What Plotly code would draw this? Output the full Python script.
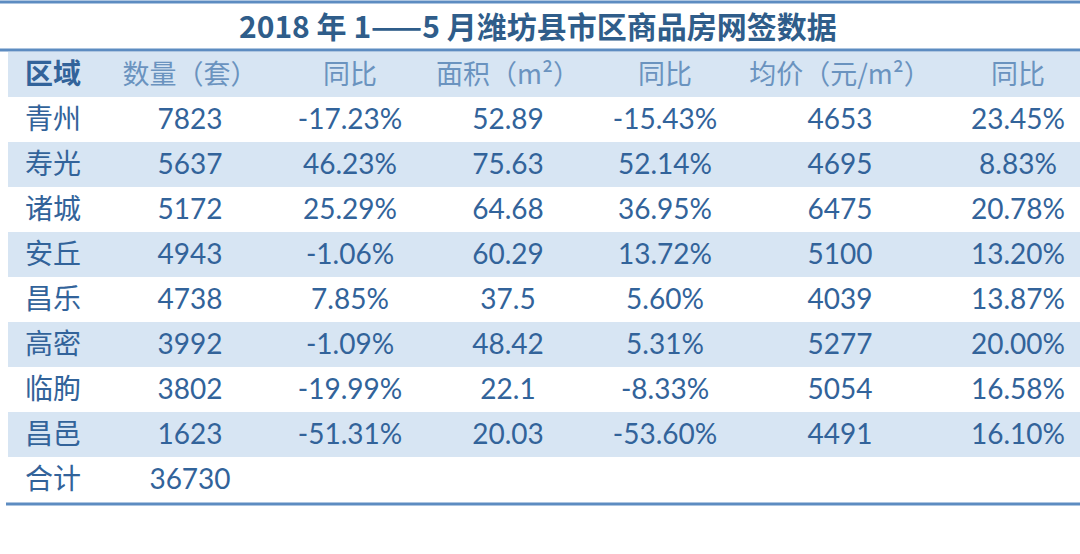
import plotly.graph_objects as go

title_text = "2018 年 1——5 月潍坊县市区商品房网签数据"
headers = ["区域", "数量（套）", "同比", "面积（m²）", "同比", "均价（元/m²）", "同比"]
regions = ["青州", "寿光", "诸城", "安丘", "昌乐", "高密", "临朐", "昌邑", "合计"]
qty = ["7823", "5637", "5172", "4943", "4738", "3992", "3802", "1623", "36730"]
qty_yoy = ["-17.23%", "46.23%", "25.29%", "-1.06%", "7.85%", "-1.09%", "-19.99%", "-51.31%", ""]
area = ["52.89", "75.63", "64.68", "60.29", "37.5", "48.42", "22.1", "20.03", ""]
area_yoy = ["-15.43%", "52.14%", "36.95%", "13.72%", "5.60%", "5.31%", "-8.33%", "-53.60%", ""]
price = ["4653", "4695", "6475", "5100", "4039", "5277", "5054", "4491", ""]
price_yoy = ["23.45%", "8.83%", "20.78%", "13.20%", "13.87%", "20.00%", "16.58%", "16.10%", ""]

W, H = 1080, 554
BLUE = "#d7e5f3"
LINE = "#5d8cc1"
TXT = "#32639a"
HTXT = "#6a93bf"
TITLE = "#2f5d8a"
CJK = "Noto Sans CJK SC"
NUM = "Lato, Noto Sans CJK SC"

# layout geometry (pixels)
ROW_H = 45.0
ROW0 = 74.0          # centre of header row
LEFT = 8
TEXT_DY = 3.0 / ROW_H  # small downward nudge of text within a row
col_x = [25, 190, 350, 508, 665, 840, 1018]

rows = list(range(len(regions) + 1))  # 0 = header
y_top = -ROW0 / ROW_H
y_bot = (H - ROW0) / ROW_H

fig = go.Figure()

# banded row backgrounds (header + every second body row)
band_rows = [r for r in rows if r % 2 == 0]
fig.add_trace(go.Bar(
    y=band_rows, x=[W - LEFT] * len(band_rows), base=[LEFT] * len(band_rows),
    orientation="h", width=1.0, marker=dict(color=BLUE, line=dict(width=0)),
    hoverinfo="skip", showlegend=False,
))

body_rows = rows[1:]
columns = [regions, qty, qty_yoy, area, area_yoy, price, price_yoy]

# header texts
for j, h in enumerate(headers):
    if j == 0:
        txt, fam, col, size, pos = "<b>" + h + "</b>", CJK, TXT, 28, "middle right"
    else:
        txt, fam, col, size, pos = h, CJK, HTXT, 27, "middle center"
    fig.add_trace(go.Scatter(
        x=[col_x[j]], y=[0 + TEXT_DY], mode="text", text=[txt], textposition=pos,
        textfont=dict(family=fam, size=size, color=col),
        hoverinfo="skip", showlegend=False,
    ))

# body texts
for j, vals in enumerate(columns):
    if j == 0:
        fam, size, pos = CJK, 28, "middle right"
    else:
        fam, size, pos = NUM, 28, "middle center"
    fig.add_trace(go.Scatter(
        x=[col_x[j]] * len(vals), y=[r + TEXT_DY for r in body_rows], mode="text",
        text=vals, textposition=pos, textfont=dict(family=fam, size=size, color=TXT),
        hoverinfo="skip", showlegend=False,
    ))

fig.add_annotation(text="<b>" + title_text + "</b>", xref="paper", yref="paper",
                   x=538 / W, y=1 - 25 / H, showarrow=False,
                   font=dict(family=CJK, size=30, color=TITLE),
                   xanchor="center", yanchor="middle")

for ypx, x0 in [(2, 0), (50, 0), (504, 6)]:
    fig.add_shape(type="line", xref="paper", yref="paper", x0=x0 / W, x1=1,
                  y0=1 - ypx / H, y1=1 - ypx / H, line=dict(color=LINE, width=3))

fig.update_layout(
    width=W, height=H, margin=dict(l=0, r=0, t=0, b=0),
    paper_bgcolor="white", plot_bgcolor="white", bargap=0,
    xaxis=dict(range=[0, W], visible=False, fixedrange=True),
    yaxis=dict(range=[y_bot, y_top], visible=False, fixedrange=True),
)
fig.write_html("out.html", config={"displayModeBar": False},
               post_script="document.body.style.margin='0';document.body.style.overflow='hidden';")
